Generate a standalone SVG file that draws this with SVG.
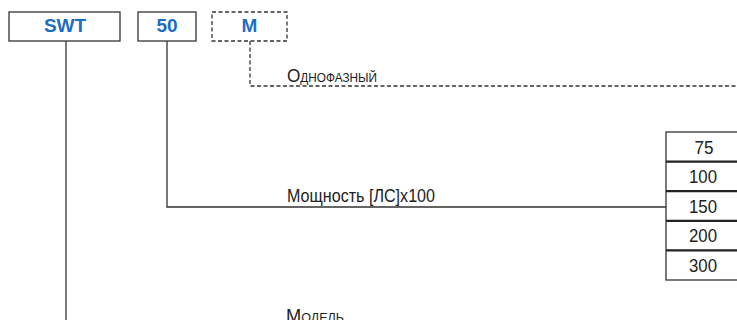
<svg xmlns="http://www.w3.org/2000/svg" width="737" height="320" viewBox="0 0 737 320">
<style>
.box{fill:#fff;stroke:#333;stroke-width:1.3}
.dbox{fill:#fff;stroke:#333;stroke-width:1.3;stroke-dasharray:4 2.5}
.code{font-family:"Liberation Sans",Arial,sans-serif;font-weight:bold;font-size:19px;fill:#1b6ec2;text-anchor:middle}
.lbl{font-family:"Liberation Sans",Arial,sans-serif;font-size:17.500px;fill:#222}
.sc{font-variant:small-caps}
.num{font-family:"Liberation Sans",Arial,sans-serif;font-size:18px;fill:#222;text-anchor:middle}
.ln{fill:none;stroke:#333;stroke-width:1.3}
.dln{fill:none;stroke:#333;stroke-width:1.3;stroke-dasharray:4 2.5}
.cell{fill:#fff;stroke:#333;stroke-width:1.3}
.div{stroke:#222;stroke-width:2.2}
</style>
<g id="connectors">
<path class="ln" d="M66 41V320"/>
<path class="ln" d="M167 41V207H666"/>
<path class="dln" d="M250 41V86H737"/>
</g>
<g id="node-swt"><rect class="box" x="9" y="12" width="111" height="29"/><text class="code" x="65" y="32">SWT</text></g>
<g id="node-50"><rect class="box" x="138" y="12" width="58" height="29"/><text class="code" x="167" y="32">50</text></g>
<g id="node-m"><rect class="dbox" x="212" y="12" width="75" height="29"/><text class="code" x="249.500" y="32">M</text></g>
<g id="label-phase"><text class="lbl sc" x="287" y="82" textLength="90" lengthAdjust="spacingAndGlyphs">Однофазный</text></g>
<g id="label-power"><text class="lbl" x="287" y="202" textLength="148" lengthAdjust="spacingAndGlyphs">Мощность [ЛС]x100</text></g>
<g id="label-model"><text class="lbl sc" x="286" y="322" textLength="58" lengthAdjust="spacingAndGlyphs">Модель</text></g>
<g id="table-power">
<rect class="cell" x="666" y="132" width="80" height="148"/>
<line class="div" x1="666" y1="161.600" x2="737" y2="161.600"/>
<line class="div" x1="666" y1="191.200" x2="737" y2="191.200"/>
<line class="div" x1="666" y1="220.800" x2="737" y2="220.800"/>
<line class="div" x1="666" y1="250.400" x2="737" y2="250.400"/>
<text class="num" x="704" y="153.500" textLength="19" lengthAdjust="spacingAndGlyphs">75</text>
<text class="num" x="703" y="183" textLength="28" lengthAdjust="spacingAndGlyphs">100</text>
<text class="num" x="703" y="212.500" textLength="28" lengthAdjust="spacingAndGlyphs">150</text>
<text class="num" x="703" y="242" textLength="28" lengthAdjust="spacingAndGlyphs">200</text>
<text class="num" x="703" y="271.500" textLength="28" lengthAdjust="spacingAndGlyphs">300</text>
</g>
</svg>
